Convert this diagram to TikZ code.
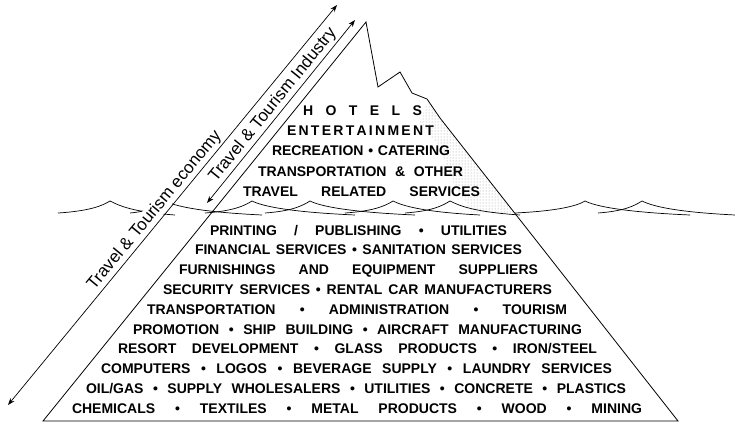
\documentclass[tikz,border=0pt]{standalone}
\usepackage{fontspec}
\setmainfont{Liberation Sans}
\usetikzlibrary{arrows.meta,patterns}
% a line of text stretched out to a given width
\newcommand{\spread}[2]{\makebox[#1][s]{#2}}
% one wave: left foot, crest, right foot
\newcommand{\wave}[3]{%
  \draw[sea] (#1,213) .. controls ({#1+0.6*(#2-#1)},211) and ({#2-8},206) .. (#2,201)
    .. controls ({#2+10},206) and ({#2+0.35*(#3-#2)},212) .. (#3,215);}

\begin{document}
\begin{tikzpicture}[x=1pt, y=-1pt,
  >={Stealth[length=7pt,width=5pt]},
  berg/.style={draw, line width=0.8pt, line join=miter},
  sea/.style={line width=0.7pt},
  span/.style={<->, line width=0.7pt},
  tag/.style={sloped, above=1pt, inner sep=1pt, fill=white,
              font=\fontsize{17}{17}\selectfont},
  item/.style={anchor=base, inner sep=0pt,
               font=\bfseries\fontsize{14}{14}\selectfont}]
\useasboundingbox (0,0) rectangle (735,425);
\coordinate (bl)   at (43,421);
\coordinate (br)   at (678,421);
\coordinate (peak) at (366,22);
% speckle on the sunny face of the tip
\fill[pattern=dots, pattern color=black!40]
  (428,100) -- (440,118) -- (515,213) -- (472,213) -- (452,180) -- (440,148) -- (420,122) -- cycle;
\draw[berg] (bl) -- (peak) -- (378,87) -- (400,72) -- (412,93) -- (427,99) -- (440,118) -- (br) -- cycle;
% water line
\wave{58}{110}{175}
\wave{130}{165}{262}
\wave{205}{252}{355}
\wave{265}{310}{415}
\wave{345}{393}{480}
\wave{405}{450}{520}
\wave{515}{585}{690}
\wave{598}{642}{735}
% the two ranges
\coordinate (ecoLo) at (8,405);
\coordinate (ecoHi) at (337,5);
\coordinate (indLo) at (207,203);
\coordinate (indHi) at (355,20);
\draw[span] (ecoLo) -- (ecoHi) node[tag, pos=0.47] (eco) {Travel \& Tourism economy};
\draw[span] (indLo) -- (indHi) node[tag, pos=0.5]  (ind) {Travel \& Tourism Industry};
% above the water
\node[item] (hotels) at (362.5,115) {\spread{119pt}{H\hfill O\hfill T\hfill E\hfill L\hfill S}};
\node[item] (ent)    at (360.5,135) {\spread{147pt}{E\hfill N\hfill T\hfill E\hfill R\hfill T\hfill A\hfill I\hfill N\hfill M\hfill E\hfill N\hfill T}};
\node[item] (recr)   at (361,155.5) {\spread{178pt}{RECREATION • CATERING}};
\node[item] (trans)  at (360.5,176) {\spread{205pt}{TRANSPORTATION \& OTHER}};
\node[item] (travel) at (361.5,196) {\spread{237pt}{TRAVEL RELATED SERVICES}};
% below the water
\node[item] (l1)  at (358.5,235)   {\spread{297pt}{PRINTING / PUBLISHING • UTILITIES}};
\node[item] (l2)  at (358.5,254.8) {\spread{327pt}{FINANCIAL SERVICES • SANITATION SERVICES}};
\node[item] (l3)  at (358.5,274.6) {\spread{359pt}{FURNISHINGS AND EQUIPMENT SUPPLIERS}};
\node[item] (l4)  at (357.5,294.4) {\spread{389pt}{SECURITY SERVICES • RENTAL CAR MANUFACTURERS}};
\node[item] (l5)  at (357,314.2)   {\spread{420pt}{TRANSPORTATION • ADMINISTRATION • TOURISM}};
\node[item] (l6)  at (357.5,334)   {\spread{449pt}{PROMOTION • SHIP BUILDING • AIRCRAFT MANUFACTURING}};
\node[item] (l7)  at (357.5,353.8) {\spread{479pt}{RESORT DEVELOPMENT • GLASS PRODUCTS • IRON/STEEL}};
\node[item] (l8)  at (356.5,373.6) {\spread{511pt}{COMPUTERS • LOGOS • BEVERAGE SUPPLY • LAUNDRY SERVICES}};
\node[item] (l9)  at (356,393.4)   {\spread{540pt}{OIL/GAS • SUPPLY WHOLESALERS • UTILITIES • CONCRETE • PLASTICS}};
\node[item] (l10) at (357,413.2)   {\spread{570pt}{CHEMICALS • TEXTILES • METAL PRODUCTS • WOOD • MINING}};
\end{tikzpicture}
\end{document}
